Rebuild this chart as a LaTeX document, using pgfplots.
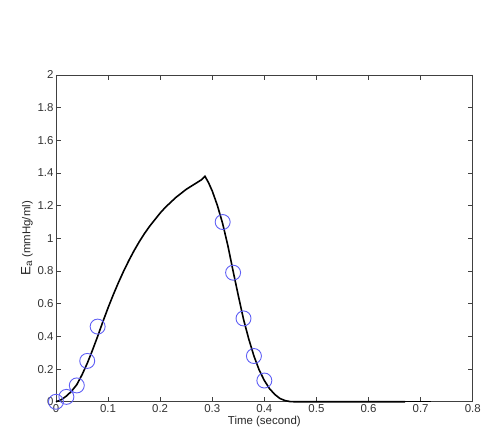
\documentclass[border=0pt]{standalone}
\usepackage{pgfplots}
\pgfplotsset{compat=1.18}
\usepackage{fontspec}
\setmainfont{Liberation Sans}
\definecolor{mblue}{RGB}{95,95,245}
\begin{document}
\begin{tikzpicture}
\path (-56bp,-37bp) rectangle (428bp,402bp);
\begin{axis}[
  scale only axis,
  width=417bp, height=327bp,
  xmin=0, xmax=0.8, ymin=0, ymax=2,
  xtick={0,0.1,...,0.8},
  xticklabels={0,0.1,0.2,0.3,0.4,0.5,0.6,0.7,0.8},
  ytick={0,0.2,...,2.0},
  yticklabels={0,0.2,0.4,0.6,0.8,1,1.2,1.4,1.6,1.8,2},
  tick align=inside,
  major tick length=5bp,
  axis line style={line width=0.8pt, black!75},
  tick style={line width=0.6pt, black!75},
  ticklabel style={font=\fontsize{11.5}{13}\selectfont, text=black!80},
  xticklabel style={yshift=1bp},
  yticklabel style={xshift=1bp},
  /pgf/number format/assume math mode=true,
  xlabel={Time (second)},
  ylabel={{\fontsize{13.5}{14}\selectfont E}\textsubscript{\fontsize{10}{11}\selectfont a} (mmHg/ml)},
  xlabel style={font=\fontsize{11.5}{13}\selectfont, text=black!85, yshift=3bp},
  ylabel style={font=\fontsize{11.5}{13}\selectfont, text=black!85, yshift=-2bp},
  clip=false,
]
\addplot[black, line width=1.6pt] coordinates {
(0,0) (0.01,0.012) (0.02,0.035) (0.03,0.065) (0.04,0.105) (0.05,0.165)
(0.06,0.235) (0.07,0.315) (0.08,0.40) (0.09,0.49) (0.10,0.575) (0.11,0.655)
(0.12,0.73) (0.13,0.80) (0.14,0.865) (0.15,0.925) (0.16,0.98) (0.17,1.03)
(0.18,1.075) (0.19,1.115) (0.20,1.155) (0.21,1.19) (0.22,1.22) (0.23,1.25)
(0.24,1.275) (0.25,1.30) (0.26,1.32) (0.27,1.34) (0.28,1.36) (0.286,1.38)
(0.293,1.34) (0.30,1.29) (0.31,1.20) (0.32,1.09) (0.33,0.955) (0.34,0.80)
(0.35,0.65) (0.36,0.505) (0.37,0.385) (0.38,0.28) (0.39,0.195) (0.40,0.13)
(0.41,0.08) (0.42,0.045) (0.43,0.02) (0.44,0.007) (0.45,0.001) (0.46,0)
(0.67,0)
};
\addplot[black, line width=0.9pt] coordinates {(0.67,0) (0.72,0)};
\addplot[only marks, mark=o, mark size=7.5bp, mblue, mark options={line width=0.9pt}] coordinates {
(0,0) (0.02,0.03) (0.04,0.10) (0.06,0.25) (0.08,0.46)
(0.32,1.10) (0.34,0.79) (0.36,0.51) (0.38,0.28) (0.40,0.13)
};
\end{axis}
\end{tikzpicture}
\end{document}
